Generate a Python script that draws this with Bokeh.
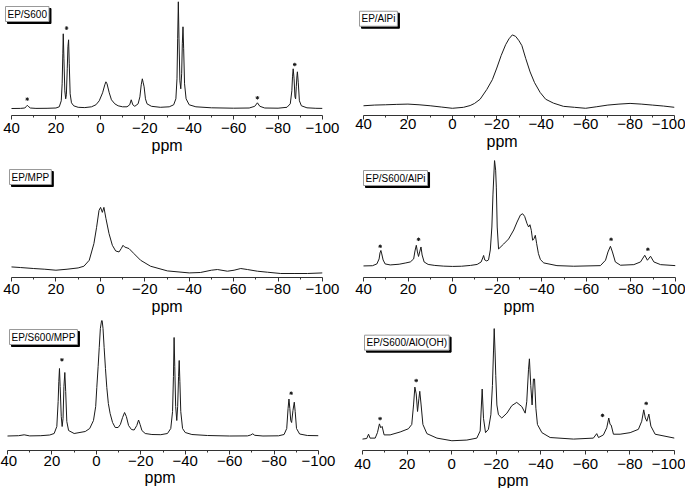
from bokeh.plotting import figure
from bokeh.layouts import column, row
from bokeh.models import Range1d, FixedTicker, Label, Title
from bokeh.embed import file_html
from bokeh.resources import INLINE

# ---------------- data ----------------
tick_values = [40, 20, 0, -20, -40, -60, -80, -100]
minor_values = [30, 10, -10, -30, -50, -70, -90]
tick_labels = ["40", "20", "0", "\u221220", "\u221240", "\u221260", "\u221280", "\u2212100"]
axis_title = "ppm"

# EP/S600
s600_ppm = [40, 36, 34, 33.5, 32.9, 32.2, 31.5, 29, 24, 20, 18.5, 17.6, 17.2, 16.9, 16.7, 16.4, 16, 15.6, 15.3,
            14.9, 14.6, 14.3, 14, 13.6, 13, 12, 10, 7, 4, 2, 0.5, -1, -2, -2.5, -3, -4, -5, -6.5, -8, -10, -12,
            -13.2, -13.9, -14.6, -15.5, -17, -17.8, -18.4, -18.9, -19.3, -19.7, -20.3, -21, -23, -27, -31, -33,
            -34, -34.5, -34.8, -35.1, -35.4, -35.8, -36.2, -36.6, -36.9, -37.2, -37.5, -37.9, -38.6, -40, -43,
            -50, -60, -67, -69.5, -70.7, -71.8, -74, -80, -84, -85.5, -86.2, -86.5, -86.8, -87.2, -87.6, -87.9,
            -88.2, -88.5, -88.7, -89.1, -89.6, -90.5, -93, -97, -100]
s600_int = [0.3, 0.4, 0.8, 2, 3.5, 2, 0.8, 0.4, 0.5, 0.8, 2, 8, 25, 55, 75, 50, 18, 10, 14,
            40, 62, 69, 45, 15, 6, 3, 1.5, 1.2, 2, 4, 8, 16, 24, 27, 25, 16, 9, 5, 3, 2, 2,
            4, 9, 4, 2.5, 5, 12, 24, 30, 26, 22, 10, 5, 2.5, 1.5, 2, 4,
            10, 30, 70, 107, 70, 28, 20, 35, 65, 82, 60, 25, 10, 4, 2,
            1, 0.6, 0.8, 2.5, 6, 2.5, 0.8, 0.6, 1.5, 5, 18, 32, 40, 30, 12, 10,
            22, 33, 37, 26, 8, 3, 1, 0.5, 0.4]
s600_star_ppm = [32.9, 15.2, -70.7, -87.5]
s600_star_int = [9.7, 80.7, 11, 44.3]

# EP/AlPi
alpi_ppm = [40, 35, 30, 25, 20, 15, 10, 5, 0, -5, -8, -10, -12.5, -15.5, -18, -20, -22, -24, -25.5, -27,
            -28.5, -30, -31.3, -33, -35, -37, -39.5, -42, -45.5, -50, -55, -60, -65, -70, -75, -80, -85,
            -90, -95, -100]
alpi_int = [3.3, 4, 4.3, 4.7, 5, 4.3, 3.3, 2, 0.7, 1.7, 3.5, 5.7, 10, 20, 30, 42, 55, 66, 72, 76,
            74.5, 70, 65, 52, 38, 27, 17, 10, 6, 2.7, 1.7, 0.7, 2.3, 4, 5, 5.7, 5,
            4, 3, 1.7]

# EP/MPP
mpp_ppm = [40, 36, 30, 25, 20, 15, 10, 7.4, 5, 2.9, 1.7, 0.6, -0.1, -0.9, -1.6, -2.5, -3.9, -5.4, -6.9, -8.4,
           -9.4, -10.2, -10.9, -12.9, -15.1, -18.1, -22.6, -30.2, -40, -45, -50, -52.7, -57.2, -60.2, -63.2,
           -66.2, -70.7, -75.2, -81.2, -87.2, -93.2, -100]
mpp_int = [7.3, 6.7, 5.7, 5, 4, 5, 6.3, 8, 14, 30.7, 47, 64, 67, 62, 67, 56, 40.7, 29, 23.3, 22.3,
           25.7, 29, 27.3, 25.7, 20.7, 14, 8, 3.3, 1.3, 1.7, 4, 4.7, 3, 4, 5.7,
           4.7, 3, 2, 0.7, 0.7, 0.7, 1.3]

# EP/S600/AlPi
s600alpi_ppm = [40, 36, 34, 33, 32.6, 32.2, 31.8, 31.2, 30.3, 28, 24, 21, 19, 17.5, 16.9, 16.3, 15.8, 15.3, 14.8,
                14.2, 13.7, 12.8, 11, 8, 4, 0, -4, -8, -11, -12.8, -13.5, -13.9, -14.4, -15.3, -16.1, -16.9,
                -17.6, -18.1, -18.8, -19.3, -19.6, -20.0, -20.6, -22.9, -25.1, -27.4, -28.9, -30.4, -31.4,
                -32.3, -33.4, -34.1, -34.7, -35.3, -35.9, -36.5, -37.1, -37.7, -38.5, -39.4, -40.9, -46.8,
                -54.3, -66.3, -68.6, -69.7, -70.8, -71.7, -73.0, -75.3, -81.3, -84.3, -86.2, -87.4, -88.8,
                -90.3, -93.3, -100]
s600alpi_int = [1, 1.2, 3, 8, 14, 16.5, 13, 7, 3, 2, 2.7, 4, 5, 8, 16, 21.7, 15, 10.5, 15,
                20, 12, 5, 2.5, 1.5, 0.8, 0.5, 0.7, 1.5, 2.5, 5, 9, 11.5, 7, 6, 7, 17,
                40, 73, 107, 97, 80, 40, 18, 23, 28, 37, 45, 52, 53.3,
                50.7, 43.3, 40, 42.3, 36.7, 26.7, 28.3, 31.7, 23.3, 13.3, 7.3, 4, 1.3,
                0.7, 1.3, 6.7, 15, 20.7, 15, 5, 1.7, 2.3, 5, 11.7, 6.7, 10.7,
                5, 2.3, 1.3]
s600alpi_star_ppm = [32.5, 15.3, -71.1, -87.6]
s600alpi_star_int = [20.7, 27.7, 27.7, 17.7]

# EP/S600/MPP
s600mpp_ppm = [40, 35, 32.5, 30, 25, 21, 19, 17.8, 17.2, 16.9, 16.6, 16.3, 15.8, 15.4, 15, 14.6, 14.2, 13.8,
               13.3, 12.5, 10, 5, 3, 1.3, 0.3, -0.2, -0.8, -1.3, -1.8, -2.5, -3.0, -3.5, -4.1, -4.7, -5.4,
               -6.2, -7.3, -8.5, -9.8, -10.8, -11.8, -12.7, -13.5, -14.5, -15.8, -17, -18.2, -19, -19.7,
               -20.5, -22, -25, -29, -32, -33.5, -34.3, -34.7, -35, -35.3, -35.7, -36.2, -36.6, -37, -37.3,
               -37.6, -38, -38.8, -40, -43, -50, -60, -68, -69.5, -70.4, -71.3, -75, -82, -84.5, -85.7,
               -86.3, -86.7, -87.1, -87.5, -87.9, -88.5, -89.1, -89.5, -90.1, -91.5, -95, -100]
s600mpp_int = [0.5, 0.8, 1.7, 0.6, 0.8, 1.5, 3, 10, 35, 55, 68, 50, 20, 10, 18, 50, 64, 45,
               15, 6, 3, 5, 8, 16, 30, 49, 70, 89, 108, 118, 108, 89, 68, 49, 33,
               23, 14, 9, 9, 12, 19, 24, 20, 11, 7, 6.5, 11, 16.5, 12,
               6, 3, 2, 1.8, 3, 8, 25, 60, 99, 70, 30, 16, 30, 60, 76,
               55, 25, 8, 4, 2, 1, 0.5, 0.6, 1.5, 2.7, 1.2, 0.5, 0.7, 2, 8,
               28, 37.5, 28, 16, 14, 26, 34.3, 25, 8, 2.5, 1, 0.8]
s600mpp_star_ppm = [15.5, -87.7]
s600mpp_star_int = [76.7, 43.3]

# EP/S600/AlO(OH)
s600alooh_ppm = [40, 38.1, 37.3, 36.6, 34.3, 33.3, 32.4, 31.8, 31.2, 30.3, 27.6, 23.1, 19.4, 17.9, 17.1, 16.5,
                 15.9, 15.3, 14.7, 14.3, 13.7, 12.9, 11.1, 6.6, -0.1, -6.8, -11.3, -12.8, -13.7, -14.3, -15.2,
                 -16.5, -17.6, -18.3, -18.8, -19.1, -19.5, -19.8, -20.3, -21.0, -22.5, -24.8, -27.0, -29.2,
                 -31.5, -33.0, -33.7, -34.5, -34.9, -35.5, -36.1, -36.7, -37.2, -37.8, -38.5, -40.5, -44.2,
                 -54.7, -63.6, -65.1, -65.9, -68.1, -69.6, -70.5, -71.1, -71.6, -72.6, -75.6, -80.1, -83.8,
                 -85.3, -86.2, -86.9, -87.6, -88.5, -89.4, -91.3, -100]
s600alooh_int = [1.7, 2.3, 6.7, 2.7, 2.7, 8.3, 17.3, 13.3, 14.7, 6, 6, 9, 12.3, 16.7, 36.7, 55,
                 48, 30, 43, 50.7, 36.7, 16.7, 7.3, 2.7, 0, 0.7, 2.7, 10, 53, 23, 8.3,
                 11.7, 26.7, 56.7, 93, 115, 90, 66.7, 36.7, 26.7, 23.3, 28.3, 36, 39.3,
                 35, 28.3, 40, 73.3, 84, 56.7, 36.7, 63.3, 63.3, 33.3, 16.7, 8.3, 3.3,
                 1.7, 2.7, 7.3, 3.3, 6, 13.3, 23.3, 16.7, 16, 6.7, 6.7, 8.3, 11.7,
                 20, 31.7, 23.3, 20, 27.3, 15, 6.7, 2.7]
s600alooh_star_ppm = [32.1, 15.9, -67.7, -87.3]
s600alooh_star_int = [22.7, 61.7, 26, 38.3]

FONT = "Liberation Sans"


def make_panel(name, ppm, inten, star_ppm, star_int, y_lo, y_hi, w, h, bl, br, bb,
               tick40_px, span_px, lab_dx, lab_dy, tick_standoff, title_standoff, title_dx):
    # frame left edge sits tick40_px pixels left of the 40 ppm tick
    x_start = 40 + tick40_px * 140.0 / span_px
    p = figure(width=w, height=h, x_range=Range1d(x_start, -100), y_range=Range1d(y_lo, y_hi),
               output_backend="svg", toolbar_location=None, y_axis_location=None,
               min_border_left=bl, min_border_right=br, min_border_top=0, min_border_bottom=bb)
    p.outline_line_color = None
    p.xgrid.visible = False
    p.ygrid.visible = False
    p.background_fill_color = "white"
    p.border_fill_color = "white"
    p.line(ppm, inten, line_color="#1a1a1a", line_width=1)
    if star_ppm:
        p.scatter(star_ppm, star_int, marker="asterisk", size=3.5, line_color="#1a1a1a", line_width=1)
    ax = p.xaxis[0]
    ax.bounds = (-100, 40)
    ax.ticker = FixedTicker(ticks=tick_values, minor_ticks=minor_values)
    ax.major_label_overrides = {v: t for v, t in zip(tick_values, tick_labels)}
    ax.axis_line_color = "#333333"
    ax.major_tick_line_color = "#333333"
    ax.minor_tick_line_color = "#333333"
    ax.major_tick_in = 0
    ax.major_tick_out = 4
    ax.minor_tick_in = 0
    ax.minor_tick_out = 2
    ax.major_label_text_font = FONT
    ax.major_label_text_font_size = "15px"
    ax.major_label_text_color = "black"
    ax.major_label_standoff = tick_standoff
    p.add_layout(Title(text=axis_title, align="left", offset=title_dx, standoff=title_standoff,
                       text_font=FONT, text_font_size="16px", text_font_style="normal",
                       text_color="black"), "below")

    frame_h = h - bb
    ly = y_hi - lab_dy * (y_hi - y_lo) / frame_h
    shadow = Label(x=x_start, y=ly, x_offset=lab_dx + 2, y_offset=-2, text=name,
                   text_font=FONT, text_font_size="10px", text_color="black",
                   text_align="left", text_baseline="top", padding=2,
                   background_fill_color="black", border_line_color="black")
    lab = Label(x=x_start, y=ly, x_offset=lab_dx, text=name,
                text_font=FONT, text_font_size="10px", text_color="black",
                text_align="left", text_baseline="top", padding=2,
                background_fill_color="white", border_line_color="#999999", border_line_width=1)
    p.add_layout(shadow)
    p.add_layout(lab)
    return p


f1 = make_panel("EP/S600", s600_ppm, s600_int, s600_star_ppm, s600_star_int,
                -6.7, 108.3, 340, 160, 1, 18, 45, 10, 311, 4, 6, 3, -1, 150)
f2 = make_panel("EP/AlPi", alpi_ppm, alpi_int, [], [],
                -6.7, 111.3, 345, 160, 10, 11, 42, 13, 311, 9, 11, -1, -2, 136)
f3 = make_panel("EP/MPP", mpp_ppm, mpp_int, [], [],
                -3.3, 114, 340, 160, 1, 18, 43, 10, 311, 8, 9, 2, -1, 150)
f4 = make_panel("EP/S600/AlPi", s600alpi_ppm, s600alpi_int, s600alpi_star_ppm, s600alpi_star_int,
                -10.6, 106.7, 345, 160, 10, 10, 43, 13, 312, 13, 10, 2, -1, 153)
f5 = make_panel("EP/S600/MPP", s600mpp_ppm, s600mpp_int, s600mpp_star_ppm, s600mpp_star_int,
                -14, 116, 340, 168, 1, 22, 38, 6, 311, 8, 9, 1, -4, 143)
f6 = make_panel("EP/S600/AlO(OH)", s600alooh_ppm, s600alooh_int, s600alooh_star_ppm, s600alooh_star_int,
                -10, 123.3, 345, 168, 10, 11, 35, 12, 312, 14, 15, 4, -3, 147)

layout = column(row(f1, f2), row(f3, f4), row(f5, f6))
open("out.html", "w").write(file_html(layout, INLINE))
